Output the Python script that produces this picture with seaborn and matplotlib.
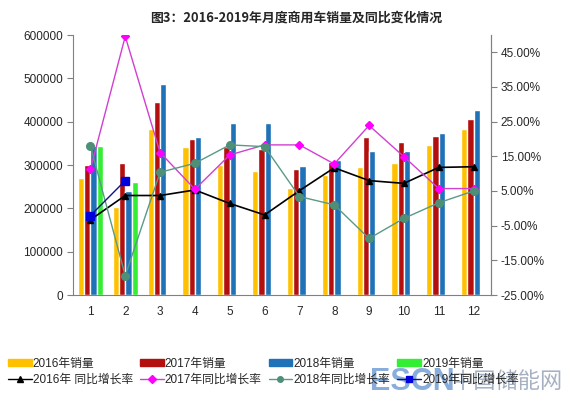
import numpy as np
import pandas as pd
import seaborn as sns
import matplotlib.pyplot as plt
from matplotlib.lines import Line2D
from matplotlib.patches import Patch

# 月份
months = [str(m) for m in range(1, 13)]

# 销量 (辆)
sales_2016 = [270000, 204000, 384000, 342000, 300000, 287000, 248000, 277000, 296000, 305000, 346000, 384000]
sales_2017 = [300000, 305000, 446000, 361000, 342000, 338000, 291000, 308000, 365000, 352000, 367000, 407000]
sales_2018 = [345000, 239000, 487000, 365000, 396000, 396000, 298000, 312000, 332000, 332000, 375000, 427000]
sales_2019 = [343000, 261000] + [np.nan] * 10

# 同比增长率 (%)
growth_2016 = [-3.3, 3.7, 3.7, 5.3, 1.4, -1.9, 5.1, 11.7, 8.0, 7.2, 11.8, 12.0]
growth_2017 = [11.3, 49.6, 16.1, 5.5, 15.4, 18.3, 18.3, 12.8, 23.9, 14.9, 5.7, 5.7]
growth_2018 = [18.0, -19.4, 10.4, 13.0, 18.3, 17.8, 3.4, 1.0, -8.7, -2.9, 1.6, 5.0]
growth_2019 = [-2.1, 8.0]

bar_labels = ["2016年销量", "2017年销量", "2018年销量", "2019年销量"]
line_labels = ["2016年 同比增长率", "2017年同比增长率", "2018年同比增长率", "2019年同比增长率"]
bar_colors = ["#FFC000", "#B40F0F", "#1F72B8", "#33EE33"]

sns.set_style("white")
plt.rcParams["font.family"] = ["Liberation Sans", "Noto Sans CJK SC"]

df = pd.DataFrame({
    "month": months * 4,
    "year": sum([[lab] * 12 for lab in bar_labels], []),
    "sales": sales_2016 + sales_2017 + sales_2018 + sales_2019,
})

fig = plt.figure(figsize=(5.68, 3.95), dpi=100)
ax = fig.add_axes([73 / 568, 1 - 295 / 395, (491 - 73) / 568, (295 - 35) / 395])

sns.barplot(data=df, x="month", y="sales", hue="year", hue_order=bar_labels,
            palette=bar_colors, width=0.72, gap=0, saturation=1,
            legend=False, ax=ax)
ax.set_ylim(0, 600000)
ax.set_xlim(-0.5, 11.5)
ax.set_yticks(range(0, 600001, 100000))
ax.set_xlabel("")
ax.set_ylabel("")
ax.set_xticks(range(12))
ax.set_xticklabels(months)
ax.set_xticks(np.arange(-0.5, 12, 1), minor=True)
ax.tick_params(axis="x", which="major", length=0, pad=8, labelsize=8.5)
ax.tick_params(axis="x", which="minor", length=4, direction="out", color="#808080")
ax.tick_params(axis="y", length=4, direction="out", color="#808080", labelsize=8.5, pad=3, left=True)
for s in ["left", "bottom", "right"]:
    ax.spines[s].set_color("#808080")
ax.spines["top"].set_visible(False)

ax2 = ax.twinx()
x = np.arange(12)
ax2.plot(x, growth_2016, color="black", lw=1.2, marker="^", ms=5)
ax2.plot(x, growth_2017, color="#D040D0", lw=1.0, marker="D", ms=4.5, mfc="#FF00FF", mec="#FF00FF")
ax2.plot(x, growth_2018, color="#5A9A85", lw=1.0, marker="o", ms=5.5, mfc="#4E8F78", mec="#4E8F78")
ax2.plot(x[:2], growth_2019, color="#10108A", lw=1.0, marker="s", ms=6, mfc="#0000DD", mec="#0000DD")
ax2.set_ylim(-25, 50)
ax2.set_yticks(range(-25, 46, 10))
ax2.set_yticklabels([f"{v:.2f}%" for v in range(-25, 46, 10)])
ax2.tick_params(axis="y", length=4, direction="out", color="#808080", labelsize=8.5, pad=3, right=True)
for s in ax2.spines.values():
    s.set_visible(False)
ax2.spines["right"].set_visible(True)
ax2.spines["right"].set_color("#808080")
ax2.set_xlim(-0.5, 11.5)

fig.text(296 / 568, 1 - 18 / 395, "图3：2016-2019年月度商用车销量及同比变化情况",
         ha="center", va="center", fontsize=9.3, fontweight="bold",
         family=["Noto Sans CJK SC", "DejaVu Sans"])

markers = ["^", "D", "o", "s"]
lcolors = ["black", "#D040D0", "#5A9A85", "#10108A"]
mcolors = ["black", "#FF00FF", "#4E8F78", "#0000DD"]
handles, labels = [], []
for i in range(4):
    handles.append(Patch(color=bar_colors[i]))
    labels.append(bar_labels[i])
    handles.append(Line2D([], [], color=lcolors[i], lw=1, marker=markers[i], ms=4,
                          mfc=mcolors[i], mec=mcolors[i]))
    labels.append(line_labels[i])
fig.legend(handles, labels, ncol=4, loc="center left",
           bbox_to_anchor=(2 / 568, 1 - 372 / 395), frameon=False,
           fontsize=8.5, handlelength=2.0, handleheight=0.5, handletextpad=0.1,
           columnspacing=0.6, labelspacing=0.35, borderpad=0)

# 水印
fig.text(370 / 568, 1 - 367 / 395, "ESCN", ha="left", va="top", fontsize=22,
         fontweight="bold", color="#4A82C8", alpha=0.65, family="Liberation Sans")
fig.text(452 / 568, 1 - 370 / 395, "中国储能网", ha="left", va="top", fontsize=16,
         color="#6A7E9A", alpha=0.6, family=["Noto Sans CJK SC"])

fig.savefig("out.png", dpi=100)
